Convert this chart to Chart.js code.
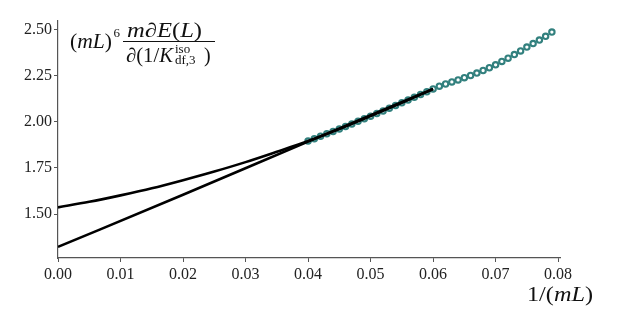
<!DOCTYPE html>
<html>
<head>
<meta charset="utf-8">
<script src="https://cdn.jsdelivr.net/npm/chart.js@4.4.1/dist/chart.umd.min.js"></script>
<style>
    html, body { margin: 0; padding: 0; background: #fff; }
    canvas { display: block; }
</style>
</head>
<body>
<canvas id="chart" width="623" height="322"></canvas>
<script>
// Data

// lattice points, 1/(mL)
const pointX = [0.040, 0.041, 0.042, 0.043, 0.044, 0.045, 0.046, 0.047, 0.048, 0.049,
                0.050, 0.051, 0.052, 0.053, 0.054, 0.055, 0.056, 0.057, 0.058, 0.059,
                0.060, 0.061, 0.062, 0.063, 0.064, 0.065, 0.066, 0.067, 0.068, 0.069,
                0.070, 0.071, 0.072, 0.073, 0.074, 0.075, 0.076, 0.077, 0.078, 0.079];
const pointY = [1.895, 1.908, 1.921, 1.934, 1.947, 1.961, 1.974, 1.988, 2.002, 2.016,
                2.030, 2.044, 2.058, 2.073, 2.087, 2.102, 2.117, 2.132, 2.147, 2.162,
                2.177, 2.192, 2.204, 2.215, 2.226, 2.238, 2.250, 2.263, 2.277, 2.292,
                2.308, 2.326, 2.344, 2.363, 2.383, 2.404, 2.423, 2.442, 2.462, 2.485];

// linear extrapolation
const linearX = [0.00, 0.02, 0.04, 0.06];
const linearY = [1.322, 1.604, 1.892, 2.177];

// quadratic extrapolation
const quadX = [0.000, 0.005, 0.010, 0.015, 0.020, 0.025, 0.030, 0.035, 0.040, 0.045, 0.050, 0.055, 0.060];
const quadY = [1.536, 1.566, 1.601, 1.639, 1.683, 1.730, 1.781, 1.837, 1.895, 1.960, 2.030, 2.102, 2.177];

// axis ranges and ticks
const xRange = [0, 0.0803];
const yRange = [1.262, 2.545];
const xStep = 0.01;
const yStep = 0.25;

const SERIF = '"Liberation Serif", "DejaVu Serif", serif';
const AXIS_GRAY = '#555555';
const TEAL = '#32807e';

function toXY(xs, ys) {
    return xs.map((x, i) => ({ x: x, y: ys[i] }));
}

// Draw runs of text (upright / italic) squeezed into a target width
function drawRuns(ctx, runs, x, y, width, size) {
    let total = 0;
    runs.forEach(r => {
        ctx.font = (r[1] ? 'italic ' : '') + size + 'px ' + SERIF;
        total += ctx.measureText(r[0]).width;
    });
    const k = width / total;
    ctx.save();
    ctx.translate(x, y);
    ctx.scale(k, 1);
    let pos = 0;
    runs.forEach(r => {
        ctx.font = (r[1] ? 'italic ' : '') + size + 'px ' + SERIF;
        ctx.fillText(r[0], pos, 0);
        pos += ctx.measureText(r[0]).width;
    });
    ctx.restore();
}

// Axis titles drawn like the matplotlib LaTeX labels
const labelPlugin = {
    id: 'mathLabels',
    afterDraw(chart) {
        const ctx = chart.ctx;
        ctx.save();
        ctx.fillStyle = '#111';
        ctx.textBaseline = 'alphabetic';
        ctx.textAlign = 'left';

        // (mL)^6
        drawRuns(ctx, [['(', false], ['mL', true], [')', false]], 70, 48, 42, 20);
        ctx.font = '13px ' + SERIF;
        ctx.fillText('6', 113.5, 37);

        // numerator  m dE(L)
        drawRuns(ctx, [['m', true], ['\u2202', true], ['E', true], ['(', false], ['L', true], [')', false]],
            127, 37, 75, 20);

        // fraction bar
        ctx.strokeStyle = '#111';
        ctx.lineWidth = 1;
        ctx.beginPath();
        ctx.moveTo(123, 41.5);
        ctx.lineTo(215, 41.5);
        ctx.stroke();

        // denominator  d(1/K^iso_df,3)
        drawRuns(ctx, [['\u2202', true], ['(1/', false], ['K', true]], 126, 62, 47, 20);
        ctx.font = '13px ' + SERIF;
        ctx.fillText('iso', 175, 53);
        ctx.fillText('df,3', 175, 64);
        ctx.font = '20px ' + SERIF;
        ctx.fillText(')', 204, 62);

        // x title  1/(mL)
        drawRuns(ctx, [['1/(', false], ['mL', true], [')', false]], 527, 301, 66, 20);

        ctx.restore();
    }
};

new Chart(document.getElementById('chart'), {
    type: 'scatter',
    data: {
        datasets: [{
            data: toXY(quadX, quadY),
            showLine: true,
            borderColor: '#000',
            borderWidth: 2.6,
            pointRadius: 0,
            cubicInterpolationMode: 'monotone'
        }, {
            data: toXY(linearX, linearY),
            showLine: true,
            borderColor: '#000',
            borderWidth: 2.6,
            pointRadius: 0,
            cubicInterpolationMode: 'monotone'
        }, {
            data: toXY(pointX, pointY),
            showLine: false,
            pointRadius: 2.7,
            pointBorderWidth: 2.1,
            pointBackgroundColor: '#ffffff',
            pointBorderColor: TEAL
        }]
    },
    options: {
        responsive: false,
        animation: false,
        layout: { padding: { top: 21, right: 63, left: 0, bottom: 0 } },
        plugins: {
            legend: { display: false },
            tooltip: { enabled: false }
        },
        scales: {
            x: {
                type: 'linear',
                min: xRange[0],
                max: xRange[1],
                afterFit: scale => { scale.height = 64; },
                border: { display: true, color: AXIS_GRAY, width: 1.2 },
                grid: { drawOnChartArea: false, drawTicks: true, tickLength: 4, color: AXIS_GRAY },
                ticks: {
                    stepSize: xStep,
                    includeBounds: false,
                    padding: 3,
                    color: '#222',
                    font: { family: SERIF, size: 16 },
                    maxRotation: 0,
                    callback: value => value.toFixed(2)
                }
            },
            y: {
                type: 'linear',
                min: yRange[0],
                max: yRange[1],
                afterFit: scale => { scale.width = 58; },
                border: { display: true, color: AXIS_GRAY, width: 1.2 },
                grid: { drawOnChartArea: false, drawTicks: true, tickLength: 4, color: AXIS_GRAY },
                ticks: {
                    stepSize: yStep,
                    includeBounds: false,
                    padding: 2,
                    color: '#222',
                    font: { family: SERIF, size: 16 },
                    callback: value => value.toFixed(2)
                }
            }
        }
    },
    plugins: [labelPlugin]
});
</script>
</body>
</html>
